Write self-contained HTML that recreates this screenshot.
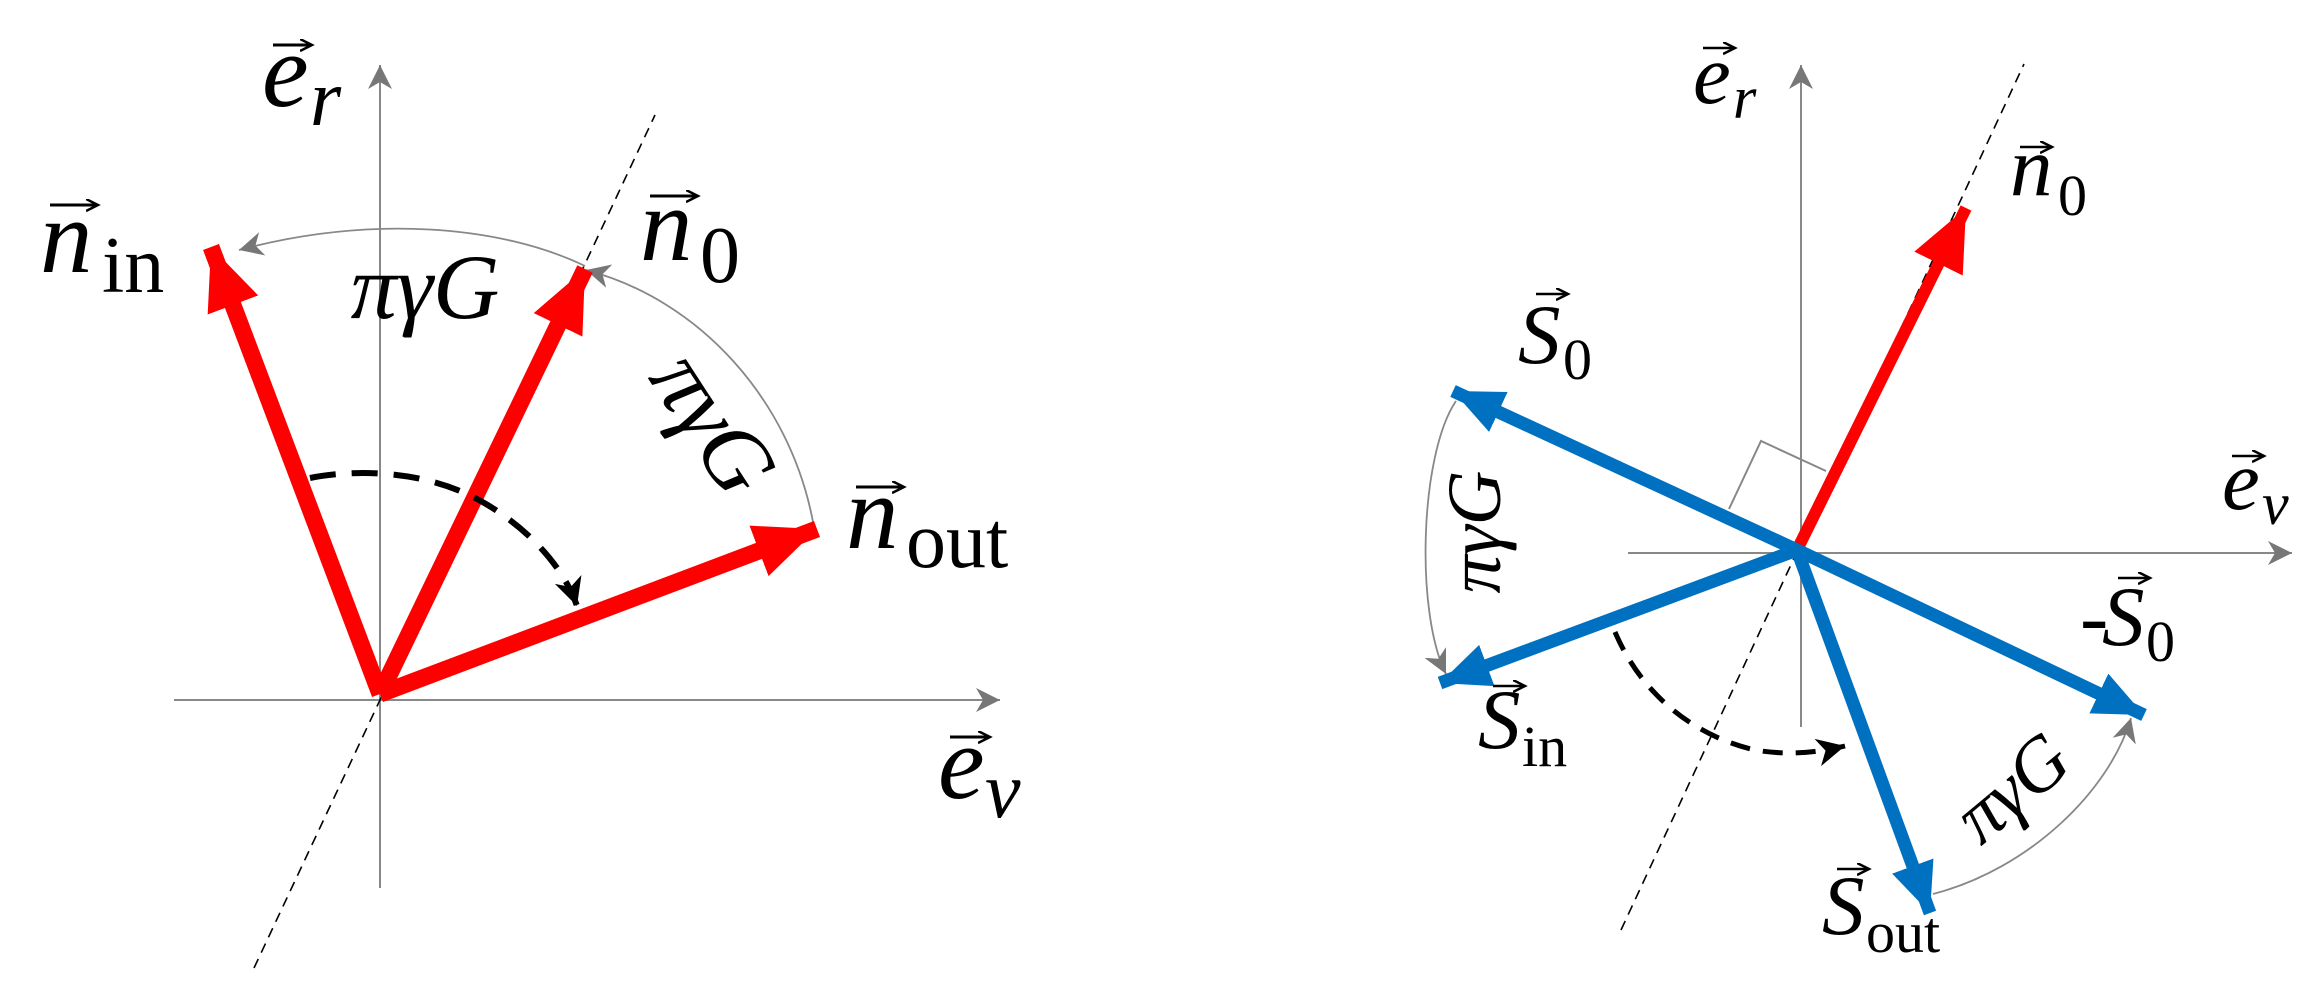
<!DOCTYPE html>
<html><head><meta charset="utf-8"><style>
html,body{margin:0;padding:0;background:#fff;overflow:hidden;}
svg{display:block;}
text{font-family:"Liberation Serif",serif;fill:#000;}
.it{font-style:italic;}
</style></head><body>
<svg width="2313" height="1003" viewBox="0 0 2313 1003" xmlns="http://www.w3.org/2000/svg">
<defs>
<marker id="ga" markerUnits="userSpaceOnUse" markerWidth="30" markerHeight="30" refX="24" refY="12" orient="auto"><path d="M0,0 L24,12 L0,24 L7,12 Z" fill="#777"/></marker>
<marker id="ra" markerUnits="userSpaceOnUse" markerWidth="80" markerHeight="60" refX="62" refY="27" orient="auto"><path d="M0,0 L62,27 L0,54 Z" fill="#f00"/></marker>
<marker id="ba" markerUnits="userSpaceOnUse" markerWidth="80" markerHeight="60" refX="50" refY="22" orient="auto"><path d="M0,0 L50,22 L0,44 Z" fill="#0070c0"/></marker>
<marker id="ka" markerUnits="userSpaceOnUse" markerWidth="40" markerHeight="40" refX="28" refY="14" orient="auto"><path d="M0,0 L28,14 L0,28 L8,14 Z" fill="#000"/></marker>
<marker id="va" markerUnits="userSpaceOnUse" markerWidth="20" markerHeight="20" refX="12" refY="6" orient="auto"><path d="M0,0 L12,6 L0,12" fill="none" stroke="#000" stroke-width="2.5"/></marker>
</defs>

<!-- LEFT PANEL -->
<line x1="380" y1="888" x2="380" y2="65" stroke="#888" stroke-width="2" marker-end="url(#ga)"/>
<line x1="174" y1="700" x2="1000" y2="700" stroke="#888" stroke-width="2" marker-end="url(#ga)"/>
<line x1="254" y1="968" x2="655" y2="115" stroke="#000" stroke-width="1.6" stroke-dasharray="10,7"/>
<path d="M813,522 C790,400 700,300 586,270" fill="none" stroke="#888" stroke-width="1.8" marker-end="url(#ga)"/>
<path d="M585,266 C500,225 370,215 239,250" fill="none" stroke="#888" stroke-width="1.8" marker-end="url(#ga)"/>
<line x1="380" y1="694" x2="211" y2="247" stroke="#f00" stroke-width="17" marker-end="url(#ra)"/>
<line x1="380" y1="694" x2="585" y2="269" stroke="#f00" stroke-width="17" marker-end="url(#ra)"/>
<line x1="380" y1="694" x2="817" y2="529" stroke="#f00" stroke-width="17" marker-end="url(#ra)"/>
<path d="M310,478 C350,470 420,468 479,500 C530,528 565,570 577,606" fill="none" stroke="#000" stroke-width="6" stroke-dasharray="26,16" marker-end="url(#ka)"/>

<text class="it" x="262" y="106" font-size="105">e</text><text class="it" x="310" y="125" font-size="80">r</text>
<line x1="273" y1="45" x2="312" y2="45" stroke="#000" stroke-width="3" marker-end="url(#va)"/>
<text class="it" x="40" y="272" font-size="105">n</text><text x="102" y="292" font-size="80">in</text>
<line x1="50" y1="205" x2="98" y2="205" stroke="#000" stroke-width="3" marker-end="url(#va)"/>
<text class="it" x="640" y="260" font-size="105">n</text><text x="700" y="282" font-size="80">0</text>
<line x1="650" y1="196" x2="698" y2="196" stroke="#000" stroke-width="3" marker-end="url(#va)"/>
<text class="it" x="846" y="548" font-size="105">n</text><text x="906" y="567" font-size="80">out</text>
<line x1="856" y1="487" x2="904" y2="487" stroke="#000" stroke-width="3" marker-end="url(#va)"/>
<text class="it" x="938" y="798" font-size="105">e</text><text class="it" x="985" y="817" font-size="80">v</text>
<line x1="950" y1="737" x2="990" y2="737" stroke="#000" stroke-width="3" marker-end="url(#va)"/>
<text class="it" x="425" y="318" font-size="92" text-anchor="middle">πγG</text>
<text class="it" x="0" y="0" font-size="92" text-anchor="middle" transform="translate(688,440) rotate(57)">πγG</text>

<!-- RIGHT PANEL -->
<line x1="1801" y1="727" x2="1801" y2="65" stroke="#888" stroke-width="2" marker-end="url(#ga)"/>
<line x1="1628" y1="553" x2="2292" y2="553" stroke="#888" stroke-width="2" marker-end="url(#ga)"/>
<line x1="1621" y1="930" x2="2024" y2="64" stroke="#000" stroke-width="1.6" stroke-dasharray="10,7"/>
<polyline points="1729,509 1761,441 1826,471" fill="none" stroke="#888" stroke-width="2"/>
<path d="M1456,401 C1420,454 1415,612 1446,674" fill="none" stroke="#888" stroke-width="1.8" marker-end="url(#ga)"/>
<path d="M1933,894 C2030,869 2110,790 2131,718" fill="none" stroke="#888" stroke-width="1.8" marker-end="url(#ga)"/>
<line x1="1797" y1="550" x2="1966" y2="208" stroke="#f00" stroke-width="12" marker-end="url(#ra)"/>
<line x1="1797" y1="550" x2="1453" y2="391" stroke="#0070c0" stroke-width="13" marker-end="url(#ba)"/>
<line x1="1797" y1="550" x2="1440" y2="683" stroke="#0070c0" stroke-width="13" marker-end="url(#ba)"/>
<line x1="1797" y1="550" x2="2144" y2="715" stroke="#0070c0" stroke-width="13" marker-end="url(#ba)"/>
<line x1="1797" y1="550" x2="1930" y2="913" stroke="#0070c0" stroke-width="13" marker-end="url(#ba)"/>
<path d="M1615,632 C1640,691 1690,735 1755,750 C1790,756 1820,752 1845,746" fill="none" stroke="#000" stroke-width="5" stroke-dasharray="20,13" marker-end="url(#ka)"/>

<text class="it" x="1693" y="103" font-size="85">e</text><text class="it" x="1733" y="118" font-size="60">r</text>
<line x1="1703" y1="48" x2="1735" y2="48" stroke="#000" stroke-width="2.5" marker-end="url(#va)"/>
<text class="it" x="2010" y="195" font-size="85">n</text><text x="2058" y="215" font-size="58">0</text>
<line x1="2020" y1="147" x2="2052" y2="147" stroke="#000" stroke-width="2.5" marker-end="url(#va)"/>
<text class="it" x="1518" y="363" font-size="85">S</text><text x="1563" y="379" font-size="58">0</text>
<line x1="1536" y1="294" x2="1568" y2="294" stroke="#000" stroke-width="2.5" marker-end="url(#va)"/>
<text class="it" x="2222" y="509" font-size="85">e</text><text class="it" x="2262" y="524" font-size="60">v</text>
<line x1="2232" y1="456" x2="2264" y2="456" stroke="#000" stroke-width="2.5" marker-end="url(#va)"/>
<text x="2080" y="645" font-size="85">-</text><text class="it" x="2102" y="645" font-size="85">S</text><text x="2146" y="661" font-size="58">0</text>
<line x1="2118" y1="578" x2="2150" y2="578" stroke="#000" stroke-width="2.5" marker-end="url(#va)"/>
<text class="it" x="1478" y="748" font-size="85">S</text><text x="1522" y="766" font-size="58">in</text>
<line x1="1493" y1="686" x2="1525" y2="686" stroke="#000" stroke-width="2.5" marker-end="url(#va)"/>
<text class="it" x="1822" y="934" font-size="85">S</text><text x="1866" y="952" font-size="58">out</text>
<line x1="1837" y1="869" x2="1869" y2="869" stroke="#000" stroke-width="2.5" marker-end="url(#va)"/>
<text class="it" x="0" y="0" font-size="76" text-anchor="middle" transform="translate(1500,532) rotate(-90)">πγG</text>
<text class="it" x="0" y="0" font-size="76" text-anchor="middle" transform="translate(2028,807) rotate(-40)">πγG</text>
</svg>
</body></html>
